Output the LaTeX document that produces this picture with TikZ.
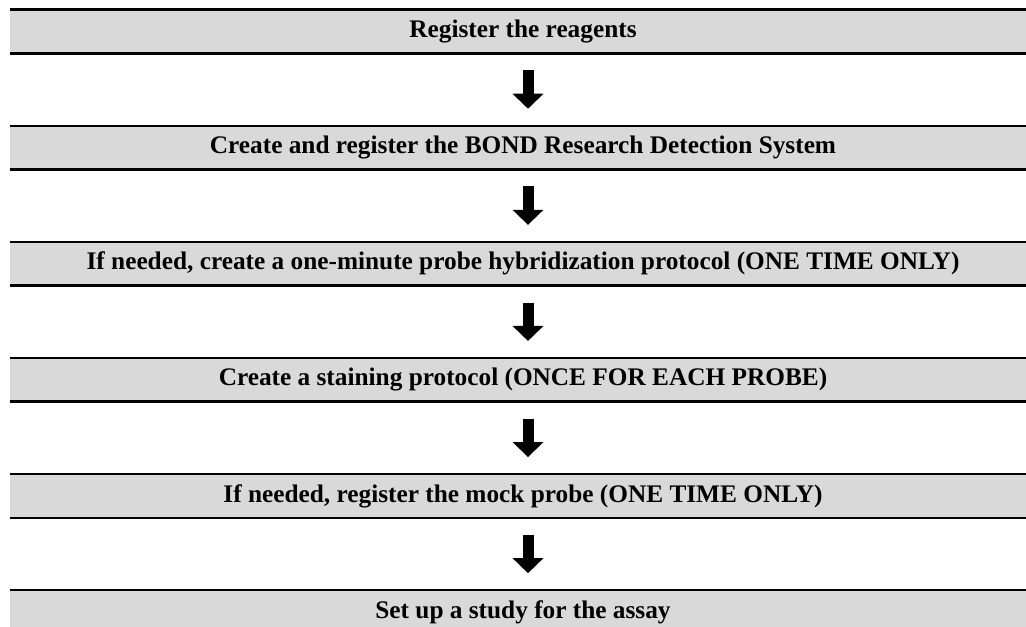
\documentclass[tikz,border=0pt]{standalone}
\usepackage{fontspec}
\setmainfont{Liberation Serif}
\usepackage{tikz}
\usetikzlibrary{positioning,arrows.meta}
\definecolor{stagegray}{HTML}{D9D9D9}
\tikzset{
	flowchart/.style={node distance=1.448cm},
	stage/.style={rectangle,fill=stagegray,minimum width=20.52cm,minimum height=0.86cm,
		inner sep=0pt,font=\fontsize{14.4}{17}\selectfont\bfseries},
	rule/.style={line width=1.4pt},
	flow/.style={-{Triangle[width=0.6cm,length=0.3cm]},line width=0.22cm,
		shorten <=0.34cm,shorten >=0.34cm}
}

\begin{document}
\begin{tikzpicture}[flowchart]
	
	\useasboundingbox (0,0) rectangle (20.52,-12.54);
	
	\node[stage] (reg) at (10.46,-0.63) {Register the reagents};
	\node[stage] (bond) [below= of reg] {Create and register the BOND Research Detection System};
	\node[stage] (hyb) [below= of bond] {If needed, create a one-minute probe hybridization protocol (ONE TIME ONLY)};
	\node[stage] (stain) [below= of hyb] {Create a staining protocol (ONCE FOR EACH PROBE)};
	\node[stage] (mock) [below= of stain] {If needed, register the mock probe (ONE TIME ONLY)};
	\node[stage] (study) [below= of mock] {Set up a study for the assay};
	
	\foreach \n in {reg,bond,hyb,stain,mock,study}
		\draw[rule] (\n.north west) -- (\n.north east) (\n.south west) -- (\n.south east);
	
	\path[flow] ([xshift=0.1cm]reg.south) edge ([xshift=0.1cm]bond.north);
	\path[flow] ([xshift=0.1cm]bond.south) edge ([xshift=0.1cm]hyb.north);
	\path[flow] ([xshift=0.1cm]hyb.south) edge ([xshift=0.1cm]stain.north);
	\path[flow] ([xshift=0.1cm]stain.south) edge ([xshift=0.1cm]mock.north);
	\path[flow] ([xshift=0.1cm]mock.south) edge ([xshift=0.1cm]study.north);
	
\end{tikzpicture}
\end{document}
